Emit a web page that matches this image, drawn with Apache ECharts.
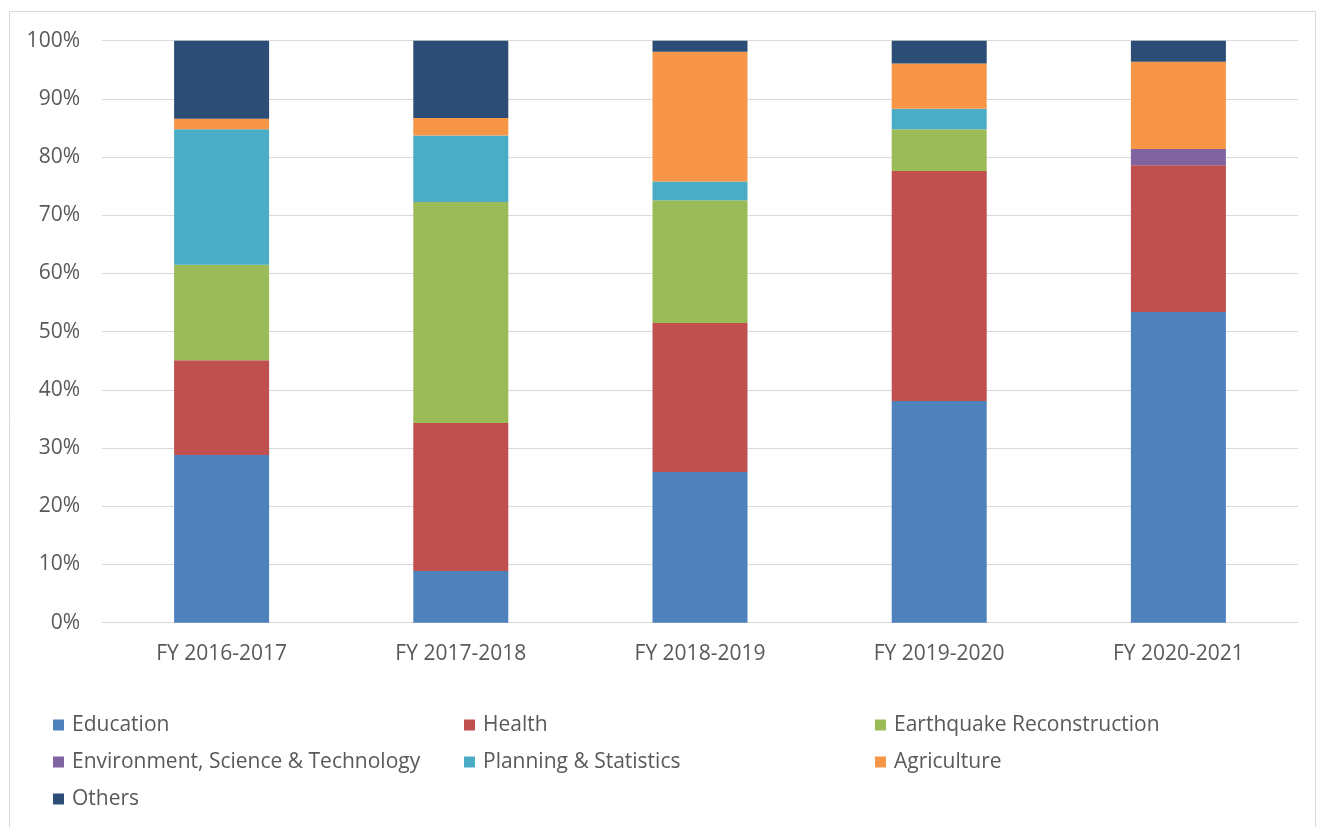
<!DOCTYPE html>
<html><head><meta charset="utf-8">
<script src="https://cdn.jsdelivr.net/npm/echarts@6/dist/echarts.min.js"></script>
<style>html,body{margin:0;padding:0;background:#fff}#c{width:1317px;height:827px}</style>
</head><body><div id="c"></div>
<script>
const categories = ['FY 2016-2017','FY 2017-2018','FY 2018-2019','FY 2019-2020','FY 2020-2021'];
const education   = [28.8, 8.9, 25.9, 38.1, 53.4];
const health      = [16.3, 25.4, 25.6, 39.5, 25.2];
const earthquake  = [16.4, 38.0, 21.1, 7.2, 0];
const environment = [0, 0, 0, 0, 2.8];
const planning    = [23.3, 11.4, 3.2, 3.5, 0];
const agriculture = [1.8, 3.0, 22.3, 7.8, 15.0];
const others      = [13.4, 13.3, 1.9, 3.9, 3.6];
const yTicks = [0,10,20,30,40,50,60,70,80,90,100];

const seriesDefs = [
  ['Education', education, '#4F81BD'],
  ['Health', health, '#C0504D'],
  ['Earthquake Reconstruction', earthquake, '#9BBB59'],
  ['Environment, Science & Technology', environment, '#8064A2'],
  ['Planning & Statistics', planning, '#4BACC6'],
  ['Agriculture', agriculture, '#F79646'],
  ['Others', others, '#2C4D75']
];
const FONT = '"Open Sans", sans-serif';
const FS = 21;
const txt = {color:'#595959', fontFamily:FONT, fontSize:FS, lineHeight:24, padding:[0,0,0,3]};
function legend(names, left){
  return {orient:'vertical', left:left, top:713, padding:0, itemGap:13, itemWidth:11, itemHeight:11,
    icon:'rect', data:names, textStyle:txt, selectedMode:false};
}
const chart = echarts.init(document.getElementById('c'), null, {renderer:'canvas'});
chart.setOption({
  animation:false,
  backgroundColor:'#fff',
  graphic:[{type:'rect', shape:{x:9.5,y:11.5,width:1306,height:900}, style:{fill:'none', stroke:'#D9D9D9', lineWidth:1}, silent:true}],
  grid:{left:102, right:19, top:40.7, bottom:204.3},
  legend:[
    legend(['Education','Environment, Science & Technology','Others'], 53),
    legend(['Health','Planning & Statistics'], 464),
    legend(['Earthquake Reconstruction','Agriculture'], 875)
  ],
  xAxis:{type:'category', data:categories,
    axisLine:{lineStyle:{color:'#D9D9D9', width:1}}, axisTick:{show:false},
    axisLabel:{color:'#595959', fontFamily:FONT, fontSize:FS, margin:21}},
  yAxis:{type:'value', min:0, max:100, interval:10,
    axisLine:{show:false}, axisTick:{show:false},
    splitLine:{lineStyle:{color:'#D9D9D9', width:1}},
    axisLabel:{color:'#595959', fontFamily:FONT, fontSize:FS, margin:22,
      formatter:v => yTicks.includes(v) ? v + '%' : ''}},
  series: seriesDefs.map(([name, data, color]) => ({
    name, type:'bar', stack:'total', data, barWidth:95,
    itemStyle:{color}, emphasis:{disabled:true}
  }))
});
</script></body></html>
